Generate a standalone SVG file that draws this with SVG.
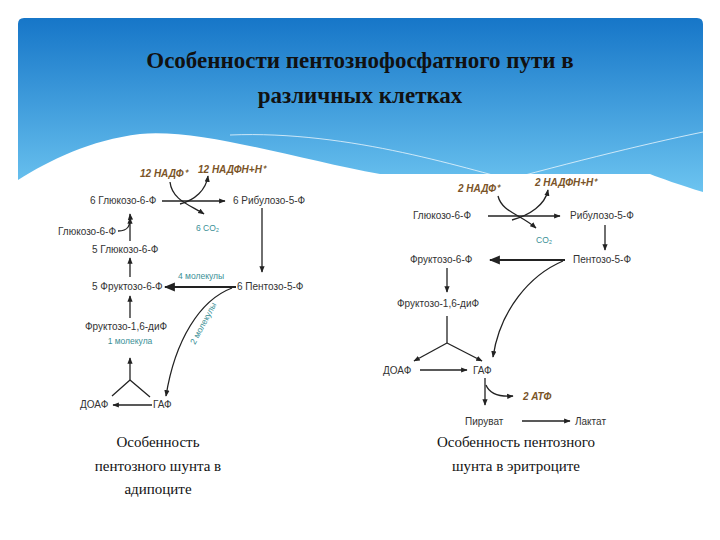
<svg xmlns="http://www.w3.org/2000/svg" width="720" height="540" viewBox="0 0 720 540">
<defs>
<linearGradient id="bg" x1="0" y1="0" x2="0" y2="1">
<stop offset="0" stop-color="#1676c8"/><stop offset="1" stop-color="#6cc4f0"/>
</linearGradient>
<marker id="ah" viewBox="0 0 10 10" refX="9" refY="5" markerWidth="5" markerHeight="5" orient="auto"><path d="M0,1 L10,5 L0,9 z" fill="#222"/></marker>
<style>
.t{font-family:"Liberation Sans",Arial,sans-serif;font-size:10px;fill:#333}
.o{font-family:"Liberation Sans",Arial,sans-serif;font-size:10px;font-style:italic;font-weight:bold;fill:#7a5428}
.c{font-family:"Liberation Sans",Arial,sans-serif;font-size:8.5px;fill:#3a8f96}
.ln{fill:none;stroke:#222;stroke-width:1.3;marker-end:url(#ah)}
.tk{fill:none;stroke:#222;stroke-width:2.2;marker-end:url(#ah)}
.pl{fill:none;stroke:#222;stroke-width:1.3}
.cap{font-family:"Liberation Serif","Times New Roman",serif;font-size:15px;fill:#111;text-anchor:middle}
.ti{font-family:"Liberation Serif","Times New Roman",serif;font-size:23px;font-weight:bold;fill:#111;text-anchor:middle}
</style>
</defs>
<rect width="720" height="540" fill="#fff"/>
<path d="M24,18 H697 Q703,18 703,24 V192 C680,185 660,178 650,174 H380 C300,160 200,128 140,134 C90,140 50,160 18,180 V24 Q18,18 24,18 Z" fill="url(#bg)"/>
<path d="M230,135 C350,130 470,170 530,185 M470,190 C560,165 640,145 703,132" stroke="#fff" stroke-width="1" fill="none" opacity="0.7"/>
<text class="ti" x="360" y="68">Особенности пентознофосфатного пути в</text>
<text class="ti" x="360" y="103">различных клетках</text>

<g id="left-nodes">
<g id="l-nadp"><text class="o" x="140" y="177">12 НАДФ⁺</text></g>
<g id="l-nadph"><text class="o" x="198" y="173">12 НАДФН+Н⁺</text></g>
<g id="l-g6p6"><text class="t" x="90" y="204">6 Глюкозо-6-Ф</text></g>
<g id="l-ru5p"><text class="t" x="233" y="204">6 Рибулозо-5-Ф</text></g>
<g id="l-co2"><text class="c" x="196" y="231">6 CO₂</text></g>
<g id="l-g6p1"><text class="t" x="58" y="235">Глюкозо-6-Ф</text></g>
<g id="l-g6p5"><text class="t" x="92" y="253">5 Глюкозо-6-Ф</text></g>
<g id="l-f6p"><text class="t" x="92" y="290">5 Фруктозо-6-Ф</text></g>
<g id="l-p5p"><text class="t" x="237" y="290">6 Пентозо-5-Ф</text></g>
<g id="l-4m"><text class="c" x="178" y="279">4 молекулы</text></g>
<g id="l-fbp"><text class="t" x="85" y="330">Фруктозо-1,6-диФ</text><text class="c" x="130" y="344" text-anchor="middle">1 молекула</text></g>
<g id="l-dhap"><text class="t" x="80" y="408">ДОАФ</text></g>
<g id="l-gap"><text class="t" x="153" y="408">ГАФ</text></g>
<g id="l-2m"><text class="c" transform="translate(195,345) rotate(-62)">2 молекулы</text></g>
</g>
<g id="left-connectors">
<path class="ln" d="M162,201 H225"/>
<path class="ln" d="M170,182 C172,200 190,205 204,214"/>
<path class="ln" d="M180,204 C195,200 206,190 208,176"/>
<path class="ln" d="M118,231 C128,231 131,226 130,214"/>
<path class="ln" d="M130,241 V218"/>
<path class="ln" d="M130,277 V258"/>
<path class="ln" d="M262,208 V272"/>
<path class="tk" d="M236,287 H165"/>
<path class="ln" d="M130,318 V296"/>
<path class="ln" d="M232,288 C200,300 175,340 166,396" stroke-width="1.5"/>
<path class="ln" d="M130,380 V358" stroke="#777"/>
<path class="pl" d="M130,380 L112,396 M130,380 L150,397"/>
<path class="ln" d="M152,405 H113"/>
</g>

<g id="right-nodes">
<g id="r-nadp"><text class="o" x="458" y="192">2 НАДФ⁺</text></g>
<g id="r-nadph"><text class="o" x="535" y="186">2 НАДФН+Н⁺</text></g>
<g id="r-g6p"><text class="t" x="413" y="219">Глюкозо-6-Ф</text></g>
<g id="r-ru5p"><text class="t" x="570" y="219">Рибулозо-5-Ф</text></g>
<g id="r-co2"><text class="c" x="536" y="243">CO₂</text></g>
<g id="r-f6p"><text class="t" x="410" y="263">Фруктозо-6-Ф</text></g>
<g id="r-p5p"><text class="t" x="573" y="263">Пентозо-5-Ф</text></g>
<g id="r-fbp"><text class="t" x="397" y="307">Фруктозо-1,6-диФ</text></g>
<g id="r-dhap"><text class="t" x="383" y="374">ДОАФ</text></g>
<g id="r-gap"><text class="t" x="473" y="374">ГАФ</text></g>
<g id="r-atp"><text class="o" x="523" y="400">2 АТФ</text></g>
<g id="r-pyr"><text class="t" x="465" y="425">Пируват</text></g>
<g id="r-lac"><text class="t" x="575" y="425">Лактат</text></g>
</g>
<g id="right-connectors">
<path class="ln" d="M488,216 H560"/>
<path class="ln" d="M498,196 C502,212 520,214 536,228"/>
<path class="ln" d="M512,220 C530,215 545,205 548,190"/>
<path class="ln" d="M605,225 V250"/>
<path class="tk" d="M565,260 H490"/>
<path class="ln" d="M447,268 V292"/>
<path class="pl" d="M447,316 V343"/>
<path class="ln" d="M447,343 L414,361"/>
<path class="ln" d="M447,343 L482,361"/>
<path class="ln" d="M563,261 C530,275 500,310 493,357"/>
<path class="ln" d="M420,370 H467"/>
<path class="ln" d="M485,378 V405"/>
<path class="ln" d="M486,385 C490,395 500,397 513,396"/>
<path class="ln" d="M522,421 H570"/>
</g>

<g id="captions">
<text class="cap" x="158" y="447">Особенность</text>
<text class="cap" x="158" y="471">пентозного шунта в</text>
<text class="cap" x="158" y="494">адипоците</text>
<text class="cap" x="516" y="447">Особенность пентозного</text>
<text class="cap" x="516" y="471">шунта в эритроците</text>
</g>
</svg>
